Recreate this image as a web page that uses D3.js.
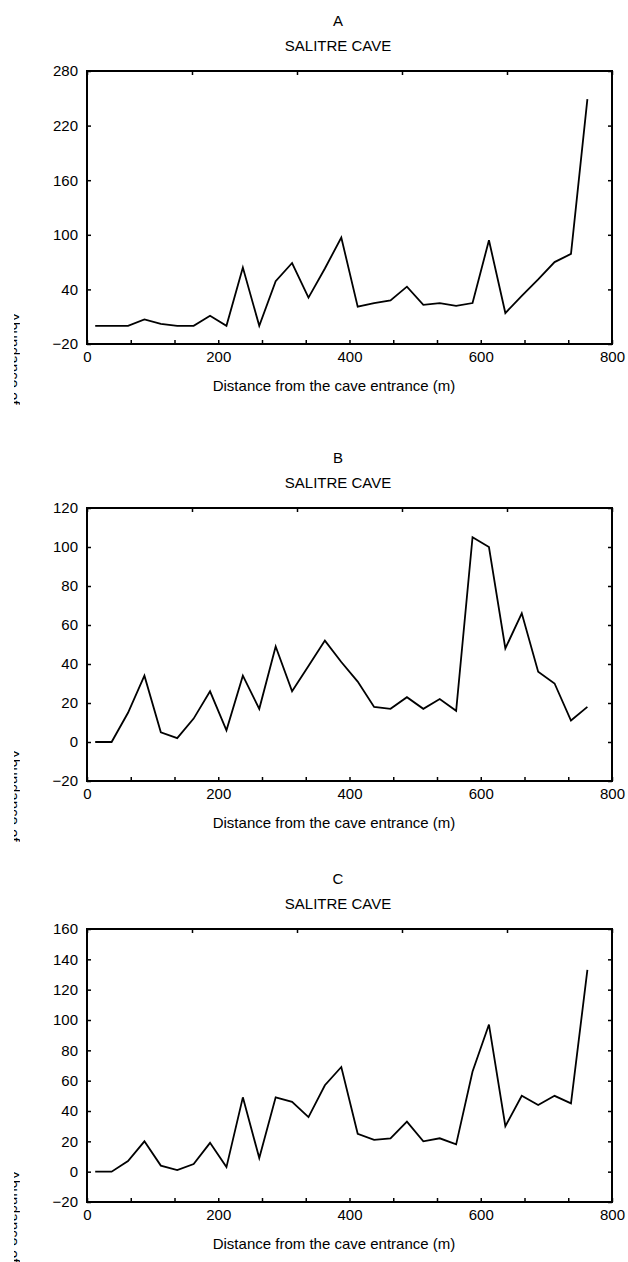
<!DOCTYPE html>
<html>
<head>
<meta charset="utf-8">
<script src="https://cdn.jsdelivr.net/npm/d3@7"></script>
<style>
  html, body { margin: 0; padding: 0; background: #fff; }
  svg { display: block; font-family: "Liberation Sans", Arial, sans-serif; }
</style>
</head>
<body>
<div id="chart"></div>
<script>
// distance of each sampling point from the entrance (m)
const distances = [12.5, 37.5, 62.5, 87.5, 112.5, 137.5, 162.5, 187.5, 212.5, 237.5,
  262.5, 287.5, 312.5, 337.5, 362.5, 387.5, 412.5, 437.5, 462.5, 487.5,
  512.5, 537.5, 562.5, 587.5, 612.5, 637.5, 662.5, 687.5, 712.5, 737.5, 762.5];

const abundanceA = [0, 0, 0, 7, 2, 0, 0, 11, 0, 64, 0, 49, 69, 31, 63, 97,
  21, 25, 28, 43, 23, 25, 22, 25, 94, 14, 33, 51, 70, 79, 249];
const abundanceB = [0, 0, 15, 34, 5, 2, 12, 26, 6, 34, 17, 49, 26, 39, 52, 41,
  31, 18, 17, 23, 17, 22, 16, 105, 100, 48, 66, 36, 30, 11, 18];
const abundanceC = [0, 0, 7, 20, 4, 1, 5, 19, 3, 49, 9, 49, 46, 36, 57, 69,
  25, 21, 22, 33, 20, 22, 18, 66, 97, 30, 50, 44, 50, 45, 133];

const panelLetters = ["A", "B", "C"];
const caveName = "SALITRE CAVE";
const xLabel = "Distance from the cave entrance (m)";
const yLabel = "Abundance of";

const xTicks = [0, 200, 400, 600, 800];
const yTicksA = [-20, 40, 100, 160, 220, 280];
const yTicksB = [-20, 0, 20, 40, 60, 80, 100, 120];
const yTicksC = [-20, 0, 20, 40, 60, 80, 100, 120, 140, 160];

const W = 628, H = 1262;
const left = 87, right = 612, plotH = 273;
const tops = [71, 508, 929];

const svg = d3.select("#chart").append("svg")
  .attr("width", W)
  .attr("height", H);

// the y titles are mostly hidden in the original, only a thin strip shows
svg.append("clipPath").attr("id", "ylab-clip")
  .append("rect").attr("x", 14).attr("y", 0).attr("width", 6).attr("height", H);

const x = d3.scaleLinear().domain([0, 800]).range([left, right]);

function drawPanel(letter, values, yTicks, top) {
  const bottom = top + plotH;
  const y = d3.scaleLinear()
    .domain([yTicks[0], yTicks[yTicks.length - 1]])
    .range([bottom, top]);

  const g = svg.append("g");

  // titles
  g.append("text")
    .attr("x", 338).attr("y", top - 45)
    .attr("text-anchor", "middle")
    .attr("font-size", 15)
    .text(letter);
  g.append("text")
    .attr("x", 338).attr("y", top - 20)
    .attr("text-anchor", "middle")
    .attr("font-size", 15)
    .text(caveName);

  // axes, ticks pointing into the plot
  g.append("g")
    .attr("transform", `translate(0,${bottom})`)
    .call(d3.axisBottom(x).tickValues(d3.range(0, 801, 800 / 12))
      .tickSizeInner(-4).tickSizeOuter(0).tickFormat(""));
  g.append("g")
    .attr("transform", `translate(0,${bottom})`)
    .call(d3.axisBottom(x).tickValues(xTicks).tickSize(0).tickPadding(7))
    .call(a => a.select(".domain").remove());
  g.append("g")
    .attr("transform", `translate(0,${top})`)
    .call(d3.axisTop(x).tickValues(d3.range(0, 801, 160))
      .tickSizeInner(-4).tickSizeOuter(0).tickFormat(""));
  g.append("g")
    .attr("transform", `translate(${left},0)`)
    .call(d3.axisLeft(y).tickValues(yTicks)
      .tickSizeInner(-4).tickSizeOuter(0).tickPadding(9));
  g.append("g")
    .attr("transform", `translate(${right},0)`)
    .call(d3.axisRight(y).tickValues(yTicks)
      .tickSizeInner(-4).tickSizeOuter(0).tickFormat(""));

  g.selectAll(".tick line").attr("stroke", "#000").attr("stroke-width", 1.5);
  g.selectAll(".domain").attr("stroke", "none");
  g.selectAll(".tick text")
    .attr("font-size", 15)
    .attr("font-family", "Liberation Sans, Arial, sans-serif")
    .attr("fill", "#000");

  // frame
  g.append("rect")
    .attr("x", left).attr("y", top)
    .attr("width", right - left).attr("height", plotH)
    .attr("fill", "none").attr("stroke", "#000").attr("stroke-width", 2);

  // series
  const line = d3.line()
    .x((d, i) => x(distances[i]))
    .y(d => y(d));
  g.append("path")
    .datum(values)
    .attr("fill", "none")
    .attr("stroke", "#000")
    .attr("stroke-width", 1.8)
    .attr("stroke-linejoin", "miter")
    .attr("d", line);

  // x title
  g.append("text")
    .attr("x", 334).attr("y", bottom + 47)
    .attr("text-anchor", "middle")
    .attr("font-size", 15)
    .text(xLabel);

  // y title, clipped
  g.append("g").attr("clip-path", "url(#ylab-clip)")
    .append("text")
    .attr("transform", `translate(8.5,${bottom - 32}) rotate(90)`)
    .attr("font-size", 15)
    .text(yLabel);
}

drawPanel(panelLetters[0], abundanceA, yTicksA, tops[0]);
drawPanel(panelLetters[1], abundanceB, yTicksB, tops[1]);
drawPanel(panelLetters[2], abundanceC, yTicksC, tops[2]);
</script>
</body>
</html>
